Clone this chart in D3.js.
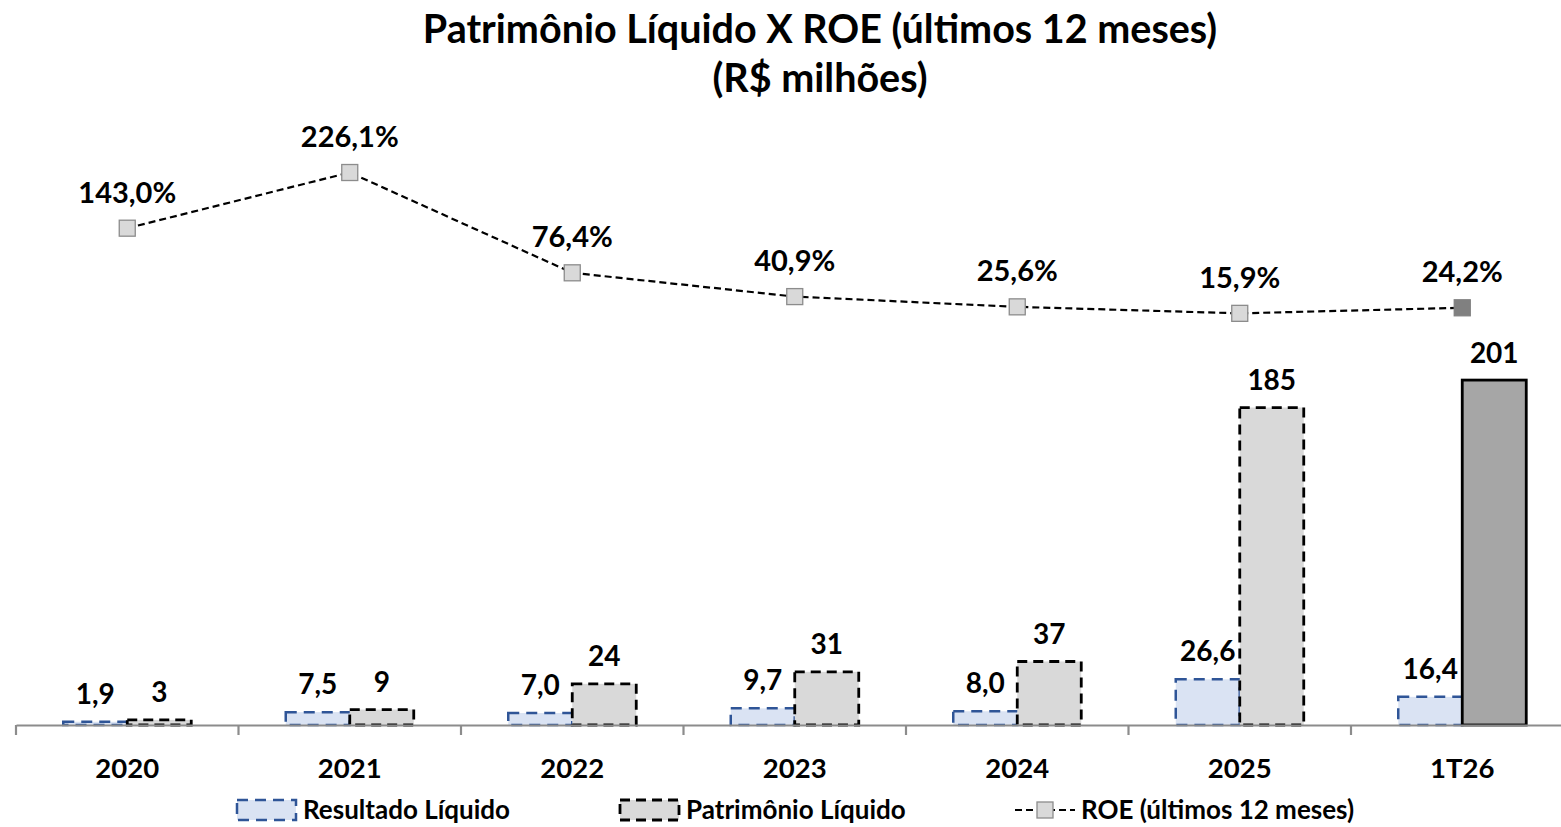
<!DOCTYPE html>
<html>
<head>
<meta charset="utf-8">
<script src="https://cdn.jsdelivr.net/npm/d3@7"></script>
<style>
  html, body { margin: 0; padding: 0; background: #ffffff; }
  svg text { font-family: Lato, "Open Sans", sans-serif; font-weight: 700; fill: #000; }
</style>
</head>
<body>
<svg id="chart" width="1561" height="827"></svg>
<script>
// Categories and series (R$ milhões / %)
const categories = ["2020", "2021", "2022", "2023", "2024", "2025", "1T26"];
const resultadoLiquido = [1.9, 7.5, 7.0, 9.7, 8.0, 26.6, 16.4];
const patrimonioLiquido = [3, 9, 24, 31, 37, 185, 201];
const roe = [143.0, 226.1, 76.4, 40.9, 25.6, 15.9, 24.2];
const titleLines = ["Patrimônio Líquido X ROE (últimos 12 meses)", "(R$ milhões)"];
const legendLabels = ["Resultado Líquido", "Patrimônio Líquido", "ROE (últimos 12 meses)"];

const fmt = v => d3.format(".1f")(v).replace(".", ",");

const svg = d3.select("#chart");

// Scales
const x = d3.scaleBand().domain(categories).range([16, 16 + 7 * 222.5]).paddingInner(0).paddingOuter(0);
const y = d3.scaleLinear().domain([0, 250]).range([725, 725 - 250 * 1.716]);
const y2 = d3.scaleLinear().domain([0, 250]).range([324, 324 - 250 * 0.67]);
const barW = 64;
const cx = c => x(c) + x.bandwidth() / 2;
const last = categories.length - 1;
const rows = categories.map((c, i) => ({ c, i, rl: resultadoLiquido[i], pl: patrimonioLiquido[i], roe: roe[i] }));

// Title
svg.append("g").selectAll("text").data(titleLines).join("text")
  .attr("x", 820).attr("y", (d, i) => 43 + i * 49)
  .attr("text-anchor", "middle").style("font-size", "39.5px").text(d => d);

// Bars: Resultado Líquido
svg.append("g").selectAll("rect").data(rows).join("rect")
  .attr("x", d => cx(d.c) - barW).attr("width", barW)
  .attr("y", d => y(d.rl)).attr("height", d => y(0) - y(d.rl))
  .attr("fill", "#dae3f3").attr("stroke", "#2f5597").attr("stroke-width", 2.5)
  .attr("stroke-dasharray", "11,7");

// Bars: Patrimônio Líquido (latest period solid and darker)
svg.append("g").selectAll("rect").data(rows).join("rect")
  .attr("x", d => cx(d.c)).attr("width", barW)
  .attr("y", d => y(d.pl)).attr("height", d => y(0) - y(d.pl))
  .attr("fill", d => d.i === last ? "#a6a6a6" : "#d9d9d9")
  .attr("stroke", "#000").attr("stroke-width", 2.8)
  .attr("stroke-dasharray", d => d.i === last ? null : "10,6");

// Category axis with ticks at band boundaries
const axisG = svg.append("g").attr("transform", `translate(0,${y(0)})`)
  .call(d3.axisBottom(x).tickSize(0).tickPadding(33));
axisG.select(".domain").attr("stroke", "#8c8c8c").attr("stroke-width", 2.2);
axisG.selectAll(".tick text").attr("dy", null).attr("y", 53)
  .style("font-size", "27.5px").style("font-family", "Lato, sans-serif")
  .style("font-weight", 700).attr("fill", "#000");
axisG.append("g").selectAll("line").data(categories.map(c => x(c))).join("line")
  .attr("x1", d => d).attr("x2", d => d).attr("y1", 0).attr("y2", 10)
  .attr("stroke", "#8c8c8c").attr("stroke-width", 2.2);

// Bar value labels
svg.append("g").selectAll("text").data(rows).join("text")
  .attr("x", d => cx(d.c) - barW / 2).attr("y", d => y(d.rl) - 18)
  .attr("text-anchor", "middle").style("font-size", "28px").text(d => fmt(d.rl));
svg.append("g").selectAll("text").data(rows).join("text")
  .attr("x", d => cx(d.c) + barW / 2).attr("y", d => y(d.pl) - 17.5)
  .attr("text-anchor", "middle").style("font-size", "28px").text(d => d.pl);

// ROE line with square markers
const line = d3.line().x(d => cx(d.c)).y(d => y2(d.roe));
svg.append("path").datum(rows).attr("d", line)
  .attr("fill", "none").attr("stroke", "#000").attr("stroke-width", 2.2)
  .attr("stroke-dasharray", "7,4");
const mk = 16;
svg.append("g").selectAll("rect").data(rows).join("rect")
  .attr("x", d => cx(d.c) - mk / 2).attr("y", d => y2(d.roe) - mk / 2)
  .attr("width", mk).attr("height", mk)
  .attr("fill", d => d.i === last ? "#808080" : "#d9d9d9")
  .attr("stroke", d => d.i === last ? "#808080" : "#8c8c8c").attr("stroke-width", 1.3);
svg.append("g").selectAll("text").data(rows).join("text")
  .attr("x", d => cx(d.c)).attr("y", d => y2(d.roe) - 25.5)
  .attr("text-anchor", "middle").style("font-size", "29px").text(d => fmt(d.roe) + "%");

// Legend
const lg = svg.append("g");
const legendX = [237, 620, 1015];
const legendTextX = [303, 686, 1081];
const ly = 810;
lg.append("rect").attr("x", legendX[0]).attr("y", ly - 10).attr("width", 59).attr("height", 20)
  .attr("fill", "#dae3f3").attr("stroke", "#2f5597").attr("stroke-width", 2.5).attr("stroke-dasharray", "11,7");
lg.append("rect").attr("x", legendX[1]).attr("y", ly - 10).attr("width", 59).attr("height", 20)
  .attr("fill", "#d9d9d9").attr("stroke", "#000").attr("stroke-width", 2.8).attr("stroke-dasharray", "10,6");
lg.append("line").attr("x1", legendX[2]).attr("x2", legendX[2] + 60).attr("y1", ly).attr("y2", ly)
  .attr("stroke", "#000").attr("stroke-width", 2.2).attr("stroke-dasharray", "7,4");
lg.append("rect").attr("x", legendX[2] + 30 - mk / 2).attr("y", ly - mk / 2).attr("width", mk).attr("height", mk)
  .attr("fill", "#d9d9d9").attr("stroke", "#8c8c8c").attr("stroke-width", 1.3);
lg.selectAll("text").data(legendLabels).join("text")
  .attr("x", (d, i) => legendTextX[i]).attr("y", ly + 9)
  .style("font-size", "26px").text(d => d);
</script>
</body>
</html>
